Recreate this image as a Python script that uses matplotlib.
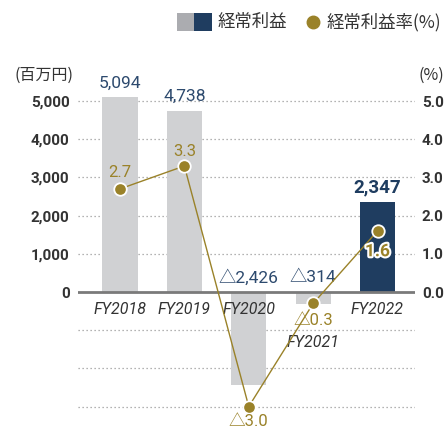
import matplotlib
matplotlib.use("Agg")
import matplotlib.pyplot as plt
from matplotlib.patches import Rectangle
import matplotlib.patheffects as pe

categories = ["FY2018", "FY2019", "FY2020", "FY2021", "FY2022"]
profit = [5094, 4738, -2426, -314, 2347]          # 経常利益 (百万円)
margin = [2.7, 3.3, -3.0, -0.3, 1.6]              # 経常利益率 (%)
left_ticks = [0, 1000, 2000, 3000, 4000, 5000]
neg_grid = [-1000, -2000, -3000]
right_ticks = [0.0, 1.0, 2.0, 3.0, 4.0, 5.0]

GREY = "#d0d1d3"
NAVY = "#1f3d60"
GOLD = "#9a8229"
TXT = "#333333"
NUM = ["Roboto", "Noto Sans CJK JP", "DejaVu Sans"]
CJK = ["Noto Sans CJK JP", "DejaVu Sans"]

W, H = 445, 428
fig = plt.figure(figsize=(W / 100, H / 100), dpi=100)
ax = fig.add_axes([78 / W, 0.4 / H, 337 / W, 338 / H])
ax.set_xlim(-0.652, 4.582)
ax.set_ylim(-3550, 5300)
ax2 = ax.twinx()
ax2.set_ylim(-3.55, 5.3)

for a in (ax, ax2):
    for s in a.spines.values():
        s.set_visible(False)

x = list(range(len(categories)))
colors = [GREY, GREY, GREY, GREY, NAVY]
ax.bar(x, profit, width=0.545, color=colors, zorder=2)

# grid lines
for v in left_ticks[1:] + neg_grid:
    ax.axhline(v, color="#9a9a9a", lw=0.9, ls=(0, (1, 2.2)), zorder=1)
ax.axhline(0, color="#7a7a7a", lw=2, zorder=2.5)

ax.set_xticks([])
ax.set_yticks(left_ticks)
ax.set_yticklabels([f"{v:,}" for v in left_ticks], fontfamily=NUM,
                   fontsize=11, fontweight="bold", color=TXT)
ax.tick_params(axis="y", length=0, pad=6)
ax2.set_yticks(right_ticks)
ax2.set_yticklabels([f"{v:.1f}" for v in right_ticks], fontfamily=NUM,
                    fontsize=11, fontweight="bold", color=TXT)
ax2.tick_params(axis="y", length=0, pad=5)

# line
ax2.plot(x, margin, color=GOLD, lw=1.0, zorder=3)
ax2.plot(x, margin, ls="none", marker="o", ms=9, mfc=GOLD, mec="white",
         mew=1.3, zorder=4)

def fmt_int(v):
    return f"{v:,}" if v >= 0 else "△" + f"{-v:,}"

def fmt_pct(v):
    return f"{v:.1f}" if v >= 0 else "△" + f"{-v:.1f}"

# bar value labels
for i, v in enumerate(profit):
    last = i == len(profit) - 1
    y = max(v, 0)
    ax.annotate(fmt_int(v), (i, y), xytext=(0, 10.5), textcoords="offset points",
                ha="center", va="center", fontfamily=NUM,
                fontsize=13.5 if last else 12.5,
                fontweight="bold" if last else "normal",
                color=NAVY if last else "#2d4a6e", zorder=5)

# margin labels
pct_offsets = [11.5, 10.5, -10.5, -12.5, -15]
for i, v in enumerate(margin):
    last = i == len(margin) - 1
    t = ax2.annotate(fmt_pct(v), (i, v), xytext=(0, pct_offsets[i]),
                     textcoords="offset points", ha="center", va="center",
                     fontfamily=NUM, fontsize=12.5 if last else 12,
                     fontweight="bold" if last else "normal", color=GOLD, zorder=6)
    if last:
        t.set_path_effects([pe.withStroke(linewidth=3, foreground="white")])

# category labels
label_y = [-470, -470, -470, -1310, -470]
for i, c in enumerate(categories):
    ax.text(i, label_y[i], c, ha="center", va="center", fontfamily=NUM,
            fontsize=11.5, fontstyle="italic", color=TXT, zorder=5)

# axis unit labels
fig.text(14 / W, 1 - 75 / H, "(百万円)", ha="left", va="center",
         fontfamily=CJK, fontsize=11.5, color=TXT)
fig.text(418 / W, 1 - 75 / H, "(%)", ha="left", va="center",
         fontfamily=CJK, fontsize=11.5, color=TXT)

# legend
fig.add_artist(Rectangle((177 / W, 1 - 31 / H), 17 / W, 18 / H,
                         transform=fig.transFigure, color="#abacb0", lw=0))
fig.add_artist(Rectangle((194 / W, 1 - 31 / H), 18 / W, 18 / H,
                         transform=fig.transFigure, color=NAVY, lw=0))
fig.text(218 / W, 1 - 22 / H, "経常利益", ha="left", va="center",
         fontfamily=CJK, fontsize=12.5, color=TXT)
ax_leg = fig.add_axes([0, 0, 1, 1], zorder=-1)
ax_leg.set_xlim(0, W)
ax_leg.set_ylim(H, 0)
ax_leg.axis("off")
ax_leg.plot([313], [22], marker="o", ms=9, color=GOLD, ls="none")
fig.text(327 / W, 1 - 22 / H, "経常利益率(%)", ha="left", va="center",
         fontfamily=CJK, fontsize=12.5, color=TXT)

fig.savefig("out.png", dpi=100)
